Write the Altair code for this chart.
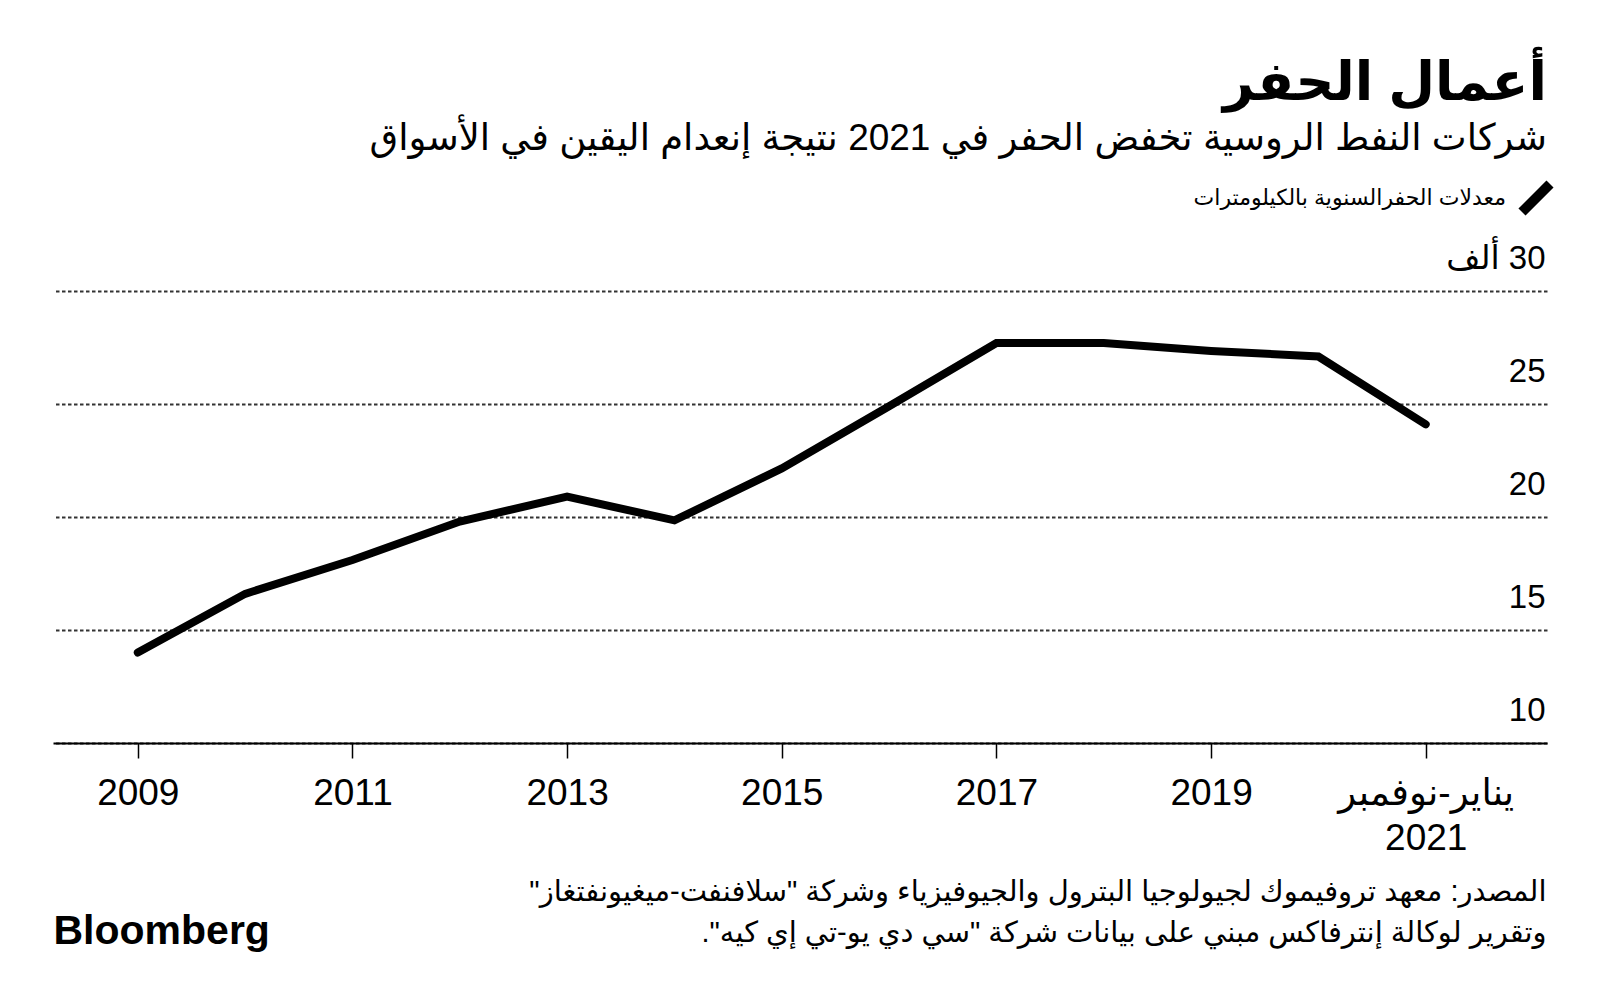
import json
import altair as alt
import pandas as pd

# ---- data ----
years = [2009, 2010, 2011, 2012, 2013, 2014, 2015, 2016, 2017, 2018, 2019, 2020, 2021]
drilling_k_km = [14.0, 16.6, 18.1, 19.8, 20.9, 19.85, 22.15, 24.9, 27.7, 27.7, 27.35, 27.1, 24.1]
x_tick_values = [2009, 2011, 2013, 2015, 2017, 2019, 2021]
y_tick_values = [10, 15, 20, 25, 30]

RLM = "\u200f"
title_text = "أعمال الحفر"
subtitle_text = "شركات النفط الروسية تخفض الحفر في 2021 نتيجة إنعدام اليقين في الأسواق"
legend_label = "معدلات الحفرالسنوية بالكيلومترات"
last_x_label = ["يناير-نوفمبر", "2021"]
top_y_label = "30 ألف"
source_lines = [
    'المصدر: معهد تروفيموك لجيولوجيا البترول والجيوفيزياء وشركة "سلافنفت-ميغيونفتغاز"',
    'وتقرير لوكالة إنترفاكس مبني على بيانات شركة "سي دي يو-تي إي كيه".',
]
brand = "Bloomberg"


def rtl(s):
    return RLM + s + RLM


df = pd.DataFrame({
    "year": years,
    "value": drilling_k_km,
    "series": [rtl(legend_label)] * len(years),
})

W, H = 1494, 452
FONT = "'Liberation Sans', 'DejaVu Sans', sans-serif"

x_label_expr = (
    "datum.value == 2021 ? " + json.dumps([rtl(t) for t in last_x_label]) + " : datum.label"
)
y_label_expr = "datum.value == 30 ? " + json.dumps(rtl(top_y_label)) + " : datum.label"

chart = (
    alt.Chart(df)
    .mark_line(strokeWidth=8, strokeCap="round", strokeJoin="miter")
    .encode(
        x=alt.X(
            "year:Q",
            scale=alt.Scale(domain=[2008.21, 2022.13], nice=False, zero=False),
            axis=alt.Axis(
                values=x_tick_values,
                format="d",
                labelExpr=x_label_expr,
                labelFont=FONT,
                labelFontSize=37,
                labelColor="#000000",
                labelPadding=17,
                labelBaseline="top",
                labelLineHeight=45,
                labelLimit=0,
                labelFlush=False,
                labelOverlap=False,
                domain=True,
                domainColor="#000000",
                domainWidth=2,
                ticks=True,
                tickSize=15,
                tickColor="#000000",
                tickWidth=1.5,
                grid=False,
                title=[rtl(s) for s in source_lines],
                titleFont=FONT,
                titleFontSize=29,
                titleFontWeight="normal",
                titleColor="#000000",
                titleAnchor="end",
                titleAlign="right",
                titleBaseline="top",
                titleLineHeight=41,
                titleLimit=0,
                titleX=W - 1,
                titleY=134,
            ),
        ),
        y=alt.Y(
            "value:Q",
            scale=alt.Scale(domain=[10, 30], nice=False, zero=False),
            axis=alt.Axis(
                orient="right",
                values=y_tick_values,
                labelExpr=y_label_expr,
                labelFont=FONT,
                labelFontSize=33,
                labelColor="#000000",
                labelAlign="right",
                labelBaseline="alphabetic",
                labelPadding=-2,
                labelOffset=-23,
                labelLimit=0,
                labelFlush=False,
                labelOverlap=False,
                ticks=False,
                tickSize=0,
                domain=False,
                grid=True,
                gridColor="#333333",
                gridDash=[3.5, 2.5],
                gridWidth=2,
                gridOpacity=1,
                title=brand,
                titleFont="'Liberation Sans', sans-serif",
                titleFontSize=41,
                titleFontWeight="bold",
                titleColor="#000000",
                titleAngle=0,
                titleAlign="left",
                titleBaseline="alphabetic",
                titleX=-W,
                titleY=652,
            ),
        ),
        color=alt.Color(
            "series:N",
            scale=alt.Scale(range=["#000000"]),
            legend=alt.Legend(
                orient="none",
                legendX=1464,
                legendY=-112,
                title=None,
                symbolType="M-1,1L1,-1",
                symbolSize=784,
                symbolStrokeWidth=10,
                labelFont=FONT,
                labelFontSize=22,
                labelColor="#000000",
                labelAlign="right",
                labelOffset={"expr": "-49"},
                labelLimit=0,
                padding=0,
                offset=0,
            ),
        ),
    )
    .properties(
        width=W,
        height=H,
        title=alt.TitleParams(
            text=rtl(title_text),
            subtitle=rtl(subtitle_text),
            anchor="end",
            align="right",
            frame="group",
            font=FONT,
            fontSize=54,
            fontWeight="bold",
            color="#000000",
            subtitleFont=FONT,
            subtitleFontSize=37,
            subtitleColor="#000000",
            subtitlePadding=10,
            offset=22,
            limit=0,
        ),
        autosize=alt.AutoSizeParams(type="none"),
        padding={"left": 45, "top": 283, "right": 45, "bottom": 245},
        background="#ffffff",
    )
    .configure_view(stroke=None)
)

chart.save("out.html", embed_options={"renderer": "svg", "actions": False})
